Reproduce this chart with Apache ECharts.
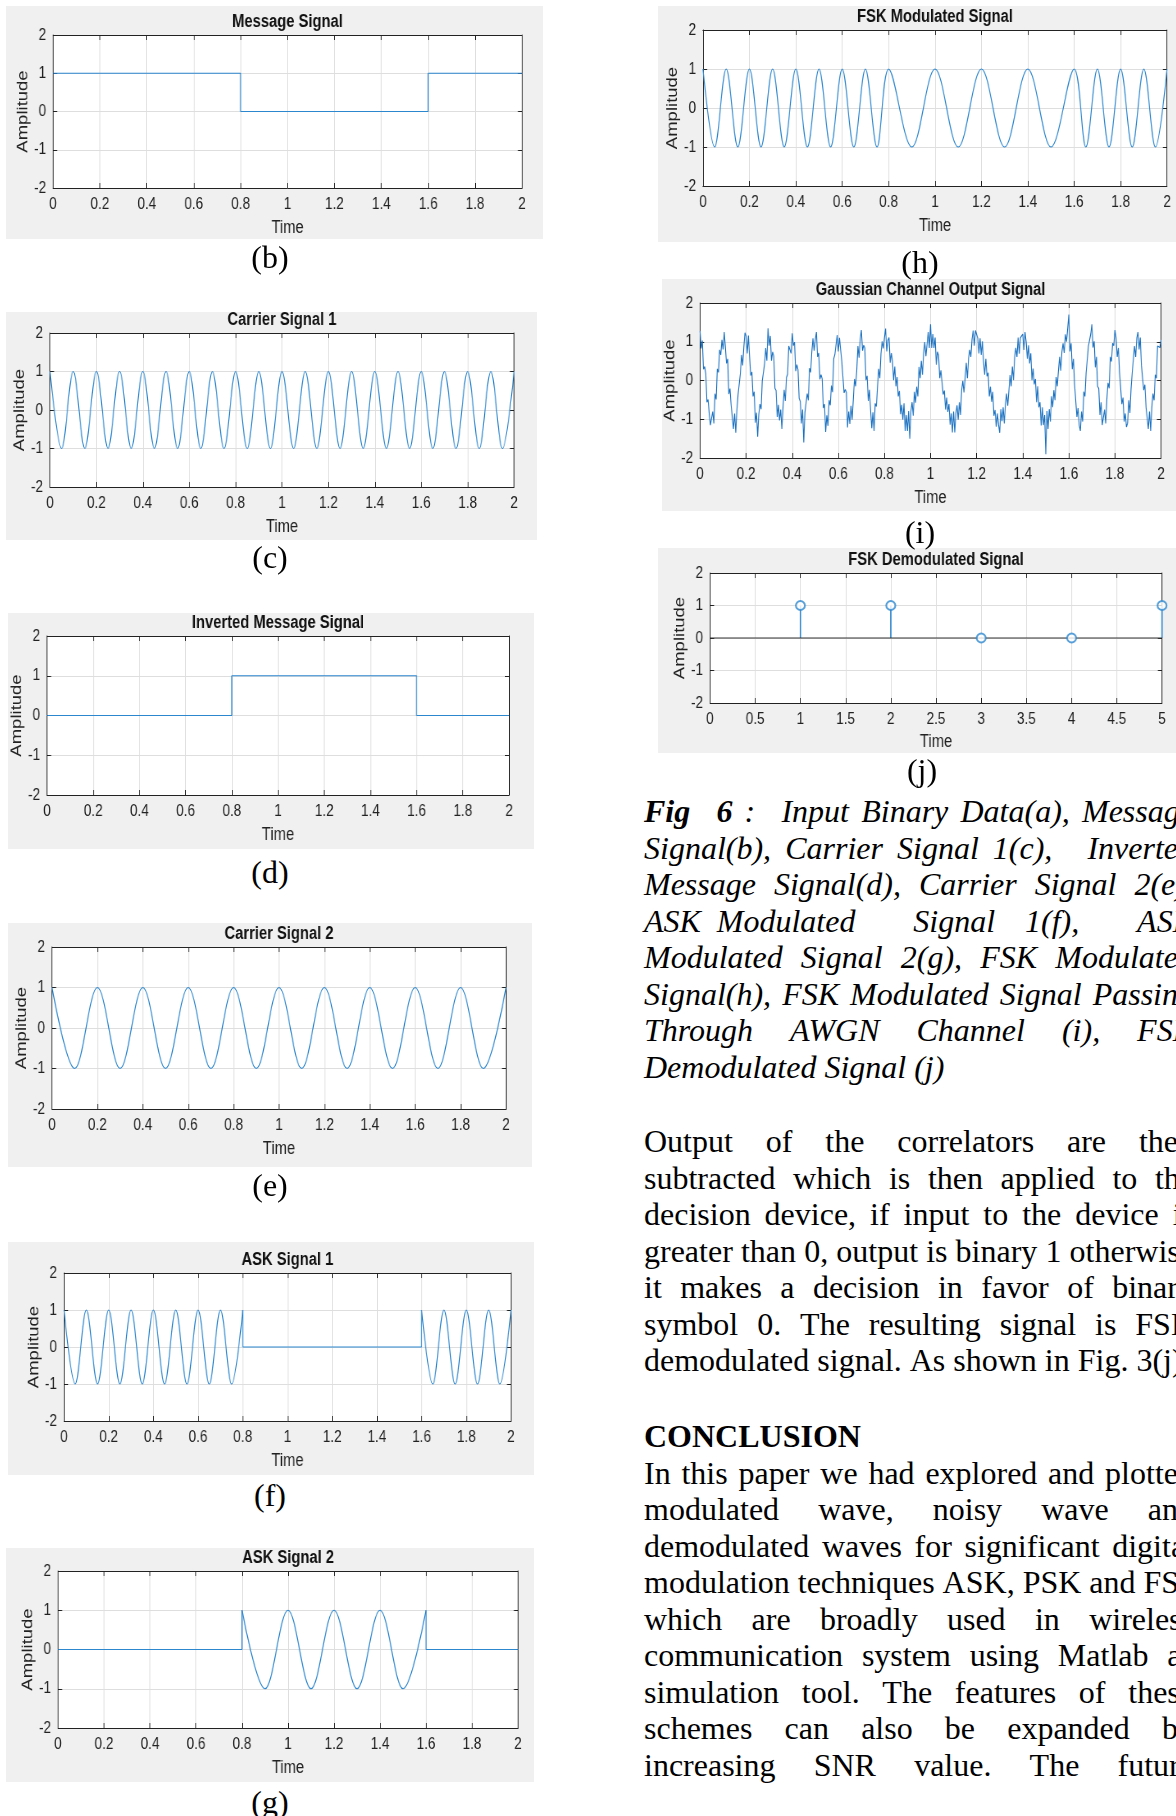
<!DOCTYPE html>
<html>
<head>
<meta charset="utf-8">
<script src="https://cdn.jsdelivr.net/npm/echarts@6/dist/echarts.min.js"></script>
<style>
html, body { margin: 0; padding: 0; background: #fff; }
body { width: 1176px; height: 1816px; overflow: hidden; position: relative; }
.panel { position: absolute; background: #f0f0f0; overflow: hidden; }
.cap { position: absolute; width: 120px; margin-left: -60px; text-align: center;
  font-family: 'Liberation Serif', 'Times New Roman', serif; font-size: 32px; line-height: 40px; color: #000; }
.txt { position: absolute; left: 644px; width: 550px; color: #000;
  font-family: 'Liberation Serif', 'Times New Roman', serif; font-size: 32px; line-height: 36.5px; }
.txt .ln { display: flex; column-gap: 8px; white-space: nowrap; height: 36.5px; }
.txt .ln.j { justify-content: space-between; }
.it { font-style: italic; }
</style>
</head>
<body>
<div class="panel" id="pb" style="left:6px;top:6px;width:537px;height:233px"></div>
<div class="panel" id="pc" style="left:6px;top:312px;width:531px;height:228px"></div>
<div class="panel" id="pd" style="left:8px;top:613px;width:526px;height:236px"></div>
<div class="panel" id="pe" style="left:8px;top:923px;width:524px;height:244px"></div>
<div class="panel" id="pf" style="left:8px;top:1242px;width:526px;height:233px"></div>
<div class="panel" id="pg" style="left:6px;top:1548px;width:528px;height:234px"></div>
<div class="panel" id="ph" style="left:658px;top:6px;width:540px;height:236px"></div>
<div class="panel" id="pi" style="left:662px;top:279px;width:540px;height:232px"></div>
<div class="panel" id="pj" style="left:658px;top:548px;width:540px;height:205px"></div>

<div class="cap" style="left:270px;top:237px">(b)</div>
<div class="cap" style="left:270px;top:537px">(c)</div>
<div class="cap" style="left:270px;top:852px">(d)</div>
<div class="cap" style="left:270px;top:1165px">(e)</div>
<div class="cap" style="left:270px;top:1475px">(f)</div>
<div class="cap" style="left:270px;top:1782px">(g)</div>
<div class="cap" style="left:920px;top:242px">(h)</div>
<div class="cap" style="left:920px;top:512px">(i)</div>
<div class="cap" style="left:922px;top:750px">(j)</div>

<div class="txt it" id="figText" style="top:793px"></div>
<div class="txt" id="bodyText" style="top:1123px"></div>
<div class="txt" id="conclText" style="top:1418px"></div>

<script>
// axis ranges
const timeMin = 0, timeMax = 2, timeStep = 0.2
const ampMin = -2, ampMax = 2, ampStep = 1

// message / inverted message (step signals)
const msgT = [0, 0.8, 0.8, 1.6, 1.6, 2]
const msgY = [1, 1, 0, 0, 1, 1]
const invY = [0, 0, 1, 1, 0, 0]

// carrier 1 peaks and troughs
const car1T = [0, 0.05, 0.1, 0.15, 0.2, 0.25, 0.3, 0.35, 0.4, 0.45, 0.5, 0.55, 0.6, 0.65, 0.7, 0.75, 0.8, 0.85, 0.9, 0.95, 1, 1.05, 1.1, 1.15, 1.2, 1.25, 1.3, 1.35, 1.4, 1.45, 1.5, 1.55, 1.6, 1.65, 1.7, 1.75, 1.8, 1.85, 1.9, 1.95, 2]
const car1Y = [1, -1, 1, -1, 1, -1, 1, -1, 1, -1, 1, -1, 1, -1, 1, -1, 1, -1, 1, -1, 1, -1, 1, -1, 1, -1, 1, -1, 1, -1, 1, -1, 1, -1, 1, -1, 1, -1, 1, -1, 1]

// carrier 2 peaks and troughs
const car2T = [0, 0.1, 0.2, 0.3, 0.4, 0.5, 0.6, 0.7, 0.8, 0.9, 1, 1.1, 1.2, 1.3, 1.4, 1.5, 1.6, 1.7, 1.8, 1.9, 2]
const car2Y = [1, -1, 1, -1, 1, -1, 1, -1, 1, -1, 1, -1, 1, -1, 1, -1, 1, -1, 1, -1, 1]

// ASK signal 1
const ask1aT = [0, 0.05, 0.1, 0.15, 0.2, 0.25, 0.3, 0.35, 0.4, 0.45, 0.5, 0.55, 0.6, 0.65, 0.7, 0.75, 0.8]
const ask1aY = [1, -1, 1, -1, 1, -1, 1, -1, 1, -1, 1, -1, 1, -1, 1, -1, 1]
const ask1StepT = [0.8, 0.8, 1.6, 1.6]
const ask1StepY = [1, 0, 0, 1]
const ask1bT = [1.6, 1.65, 1.7, 1.75, 1.8, 1.85, 1.9, 1.95, 2]
const ask1bY = [1, -1, 1, -1, 1, -1, 1, -1, 1]

// ASK signal 2
const ask2StepAT = [0, 0.8, 0.8]
const ask2StepAY = [0, 0, 1]
const ask2T = [0.8, 0.9, 1, 1.1, 1.2, 1.3, 1.4, 1.5, 1.6]
const ask2Y = [1, -1, 1, -1, 1, -1, 1, -1, 1]
const ask2StepBT = [1.6, 1.6, 2]
const ask2StepBY = [1, 0, 0]

// FSK modulated
const fskT = [0, 0.05, 0.1, 0.15, 0.2, 0.25, 0.3, 0.35, 0.4, 0.45, 0.5, 0.55, 0.6, 0.65, 0.7, 0.75, 0.8, 0.9, 1, 1.1, 1.2, 1.3, 1.4, 1.5, 1.6, 1.65, 1.7, 1.75, 1.8, 1.85, 1.9, 1.95, 2]
const fskY = [1, -1, 1, -1, 1, -1, 1, -1, 1, -1, 1, -1, 1, -1, 1, -1, 1, -1, 1, -1, 1, -1, 1, -1, 1, -1, 1, -1, 1, -1, 1, -1, 1]

// gaussian channel output, one sample every 0.005 s
const gStep = 0.005
const gY = [
  1.28, .83, 1.03, .29, .36, .18, -.56, -.49, -.86, -1.15, -1.1, -.8, -1.11, -.34, -.49, .3, .21, .79, .66, 1.05,
  .8, 1.25, .86, .44, .56, -.35, -.21, -.64, -.61, -1.25, -.85, -1.35, -.76, -.37, -.41, .18, .66, .39, .86, 1.23,
  1.15, .7, 1.16, .61, .13, .22, -.41, -.29, -1.09, -.83, -1.45, -.87, -.61, -.74, -.01, -.05, .43, .84, .51, 1.35,
  .9, 1.15, .51, .74, .63, -.2, -.26, -.94, -.63, -1.03, -.75, -1.25, -.71, -.24, -.53, .08, .16, .89, .91, .7,
  1.22, .9, .99, .24, .41, .28, -.46, -.54, -1.11, -.75, -1.6, -.83, -.86, -.34, -.51, .32, .21, .74, 1.09, .77,
  1.05, 1.25, .61, .71, .03, .15, .04, -.71, -.61, -1.33, -.9, -1.17, -.51, -.64, -.13, -.3, .56, .67, .66, 1.17,
  .75, 1.1, 1.11, .49, .53, -.32, -.23, -.31, -1.21, -.8, -1.12, -.65, -1.01, -.49, .04, -.15, .26, .89, .59, 1.07,
  1.3, .77, .91, .84, .01, .12, -.53, -.24, -.76, -1.23, -.82, -1.3, -.59, -.67, -.16, .3, .06, .69, 1.01, .83,
  1.1, 1.34, .75, 1.04, 1.11, .46, .71, .5, .01, .36, -.15, .09, -.41, -.27, -.87, -.63, -1.01, -.59, -1.3, -.89,
  -1.3, -.79, -1.5, -.79, -.56, -.91, -.29, -.57, -.16, -.41, .35, .06, .51, .15, .71, .99, .63, .94, 1.25, .84,
  1.45, .84, 1.2, .84, 1.11, .41, .74, .65, .06, .26, .25, -.36, -.26, -.75, -.44, -.81, -.61, -1.14, -.85, -1.34,
  -.8, -1.34, -.85, -.64, -1.01, -.56, -.89, -.25, -.01, -.31, .05, .46, .06, .57, .79, .61, 1.06, 1.29, .9, 1.29,
  1.3, 1.09, .7, 1.09, .66, 1.01, .49, .15, .56, .11, .2, -.41, -.16, -.55, -.29, -.91, -.76, -1.19, -.85, -1.14,
  -1.35, -.74, -1.05, -.69, -1.11, -.61, -.34, -.65, -.26, .14, -.15, .36, .01, .6, .84, .61, 1.11, .69, 1.1, 1.09,
  1.2, .79, 1.25, .99, .56, .91, .44, .7, .01, .31, -.1, .04, -.56, -.15, -.69, -.56, -1.16, -.69, -1.15, -.89,
  -1.9, -.79, -1.25, -.74, -1.06, -.41, -.69, -.25, -.51, .09, -.15, .26, .61, .25, .74, .96, .71, 1.19, 1.0, 1.34,
  1.7, .75, .96, .29, .56, -.1, -.11, -.94, -.71, -1.15, -1.3, -.8, -1.06, -.29, -.41, .2, .16, .89, .91, 1.2,
  1.45, .85, 1.01, .34, .61, -.15, -.21, -.89, -.56, -1.15, -1.15, -.75, -1.11, -.49, -.06, -.2, .61, .49, .96, .9,
  1.3, 1.1, .61, .84, .21, .2, -.61, -.44, -1.06, -.85, -1.2, -1.1, -.51, -.84, -.21, .2, .21, .89, .61, 1.1,
  1.25, .8, 1.11, .39, .41, -.25, -.11, -.69, -.66, -1.25, -.8, -1.3, -.71, -.34, -.51, .15, .06, .89, .91, .85,
  1.05
]

// FSK demodulated bits
const demodT = [1, 2, 3, 4, 5]
const demodY = [1, 1, 0, 0, 1]

// page text
const figLines = [
  ['<b>Fig</b> ++<b>6</b> : ++Input Binary Data(a), Message', true],
  ['Signal(b), Carrier Signal 1(c), +++Inverted', true],
  ['Message Signal(d), Carrier Signal 2(e),', true],
  ['ASK Modulated ++++++Signal ++1(f), ++++++ASK', true],
  ['Modulated Signal 2(g), FSK Modulated', true],
  ['Signal(h), FSK Modulated Signal Passing', true],
  ['Through AWGN Channel (i), FSK', true],
  ['Demodulated Signal (j)', false]
]
const bodyLines = [
  ['Output of the correlators are then', true],
  ['subtracted which is then applied to the', true],
  ['decision device, if input to the device is', true],
  ['greater than 0, output is binary 1 otherwise', true],
  ['it makes a decision in favor of binary', true],
  ['symbol 0. The resulting signal is FSK', true],
  ['demodulated signal. As shown in Fig. 3(j).', false]
]
const conclLines = [
  ['<b>CONCLUSION</b>', false],
  ['In this paper we had explored and plotted', true],
  ['modulated wave, noisy wave and', true],
  ['demodulated waves for significant digital', true],
  ['modulation techniques ASK, PSK and FSK', true],
  ['which are broadly used in wireless', true],
  ['communication system using Matlab as', true],
  ['simulation tool. The features of these', true],
  ['schemes can also be expanded by', true],
  ['increasing SNR value. The future', true]
]

const axisColor = '#222'
const gridColor = '#dedede'
const waveColor = '#2c87cf'
const sansFont = "'Liberation Sans', Arial, sans-serif"
// the matlab figures in the paper are squeezed sideways
const sx = 0.82

const zip = (t, y) => t.map((v, i) => [v, y[i]])

function wave(pts, smooth, color, width) {
  return {
    type: 'line',
    data: pts,
    showSymbol: false,
    symbol: 'none',
    smooth: smooth ? 0.36 : false,
    lineStyle: { color: color || waveColor, width: width || 1.2 },
    silent: true
  }
}

function makeOption(p) {
  const g = p.grid
  const gl = g[0] / sx, gw = g[2] / sx
  const xMin = p.xMin != null ? p.xMin : timeMin
  const xMax = p.xMax != null ? p.xMax : timeMax
  const xStep = p.xStep || timeStep
  const line = { show: true, onZero: false, lineStyle: { color: axisColor, width: 1 } }
  const tick = { show: true, inside: true, length: 5, lineStyle: { color: axisColor, width: 1 } }
  return {
    animation: false,
    grid: {
      left: gl, top: g[1], width: gw, height: g[3],
      show: true, backgroundColor: '#fff', borderWidth: 0,
      containLabel: false, outerBoundsMode: 'none'
    },
    graphic: [{
      type: 'text',
      x: gl + gw / 2,
      y: g[1] - 13,
      style: {
        text: p.title,
        font: 'bold 18px ' + sansFont,
        fill: '#111',
        align: 'center',
        verticalAlign: 'middle'
      }
    }],
    xAxis: [
      {
        type: 'value', min: xMin, max: xMax, interval: xStep, position: 'bottom',
        name: 'Time', nameLocation: 'middle', nameGap: p.xNameGap || 31,
        nameTextStyle: { color: axisColor, fontSize: 18, fontFamily: sansFont },
        axisLine: line, axisTick: tick,
        axisLabel: { color: axisColor, fontSize: 16.5, fontFamily: sansFont, margin: 8 },
        splitLine: { show: true, lineStyle: { color: gridColor, width: 1 } }
      },
      {
        type: 'value', min: xMin, max: xMax, interval: xStep, position: 'top',
        axisLine: line, axisTick: tick,
        axisLabel: { show: false }, splitLine: { show: false }
      }
    ],
    yAxis: [
      {
        type: 'value', min: ampMin, max: ampMax, interval: ampStep, position: 'left',
        name: 'Amplitude', nameLocation: 'middle', nameGap: 27, nameMoveOverlap: false,
        nameTextStyle: { color: axisColor, fontSize: 18.5, fontFamily: sansFont },
        axisLine: line, axisTick: tick,
        axisLabel: { color: axisColor, fontSize: 16.5, fontFamily: sansFont, margin: 8.5 },
        splitLine: { show: true, lineStyle: { color: gridColor, width: 1 } }
      },
      {
        type: 'value', min: ampMin, max: ampMax, interval: ampStep, position: 'right',
        axisLine: line, axisTick: tick,
        axisLabel: { show: false }, splitLine: { show: false }
      }
    ],
    series: p.series
  }
}

function drawPanel(id, p) {
  const outer = document.getElementById(id)
  const inner = document.createElement('div')
  inner.style.width = (outer.offsetWidth / sx) + 'px'
  inner.style.height = outer.offsetHeight + 'px'
  inner.style.transform = 'scaleX(' + sx + ')'
  inner.style.transformOrigin = '0 0'
  outer.appendChild(inner)
  const chart = echarts.init(inner)
  chart.setOption(makeOption(p))
}

drawPanel('pb', {
  title: 'Message Signal', grid: [47, 29, 469, 153],
  series: [wave(zip(msgT, msgY), false)]
})
drawPanel('pc', {
  title: 'Carrier Signal 1', grid: [44, 21, 464, 154],
  series: [wave(zip(car1T, car1Y), true)]
})
drawPanel('pd', {
  title: 'Inverted Message Signal', grid: [39, 23, 462, 159],
  series: [wave(zip(msgT, invY), false)]
})
drawPanel('pe', {
  title: 'Carrier Signal 2', grid: [44, 24, 454, 162],
  series: [wave(zip(car2T, car2Y), true)]
})
drawPanel('pf', {
  title: 'ASK Signal 1', grid: [56, 31, 447, 148],
  series: [
    wave(zip(ask1aT, ask1aY), true),
    wave(zip(ask1StepT, ask1StepY), false),
    wave(zip(ask1bT, ask1bY), true)
  ]
})
drawPanel('pg', {
  title: 'ASK Signal 2', grid: [52, 23, 460, 157],
  series: [
    wave(zip(ask2StepAT, ask2StepAY), false),
    wave(zip(ask2T, ask2Y), true),
    wave(zip(ask2StepBT, ask2StepBY), false)
  ]
})
drawPanel('ph', {
  title: 'FSK Modulated Signal', grid: [45, 24, 464, 156],
  series: [wave(zip(fskT, fskY), true)]
})
drawPanel('pi', {
  title: 'Gaussian Channel Output Signal', grid: [38, 24, 461, 155],
  series: [wave(gY.map((v, i) => [i * gStep, v]), false, '#1c72c2', 1.1)]
})
drawPanel('pj', {
  title: 'FSK Demodulated Signal', grid: [52, 25, 452, 130],
  xMin: 0, xMax: 5, xStep: 0.5, xNameGap: 27,
  series: [
    wave([[0, 0], [5, 0]], false, '#333', 1),
    {
      type: 'bar', data: zip(demodT, demodY), barWidth: 1.6,
      itemStyle: { color: waveColor }, silent: true
    },
    {
      type: 'scatter', data: zip(demodT, demodY), symbol: 'emptyCircle', symbolSize: [11, 9],
      itemStyle: { color: waveColor, borderColor: waveColor, borderWidth: 1.3 },
      clip: false, z: 5, silent: true
    }
  ]
})

// text lines, '+' in front of a word adds extra space before it
function fillText(id, lines) {
  const box = document.getElementById(id)
  lines.forEach(([text, justify]) => {
    const row = document.createElement('div')
    row.className = justify ? 'ln j' : 'ln'
    text.split(' ').forEach(w => {
      let extra = 0
      while (w[0] === '+') { extra += 7; w = w.slice(1) }
      const s = document.createElement('span')
      if (extra) s.style.marginLeft = extra + 'px'
      s.innerHTML = w
      row.appendChild(s)
    })
    box.appendChild(row)
  })
}
fillText('figText', figLines)
fillText('bodyText', bodyLines)
fillText('conclText', conclLines)
</script>
</body>
</html>
